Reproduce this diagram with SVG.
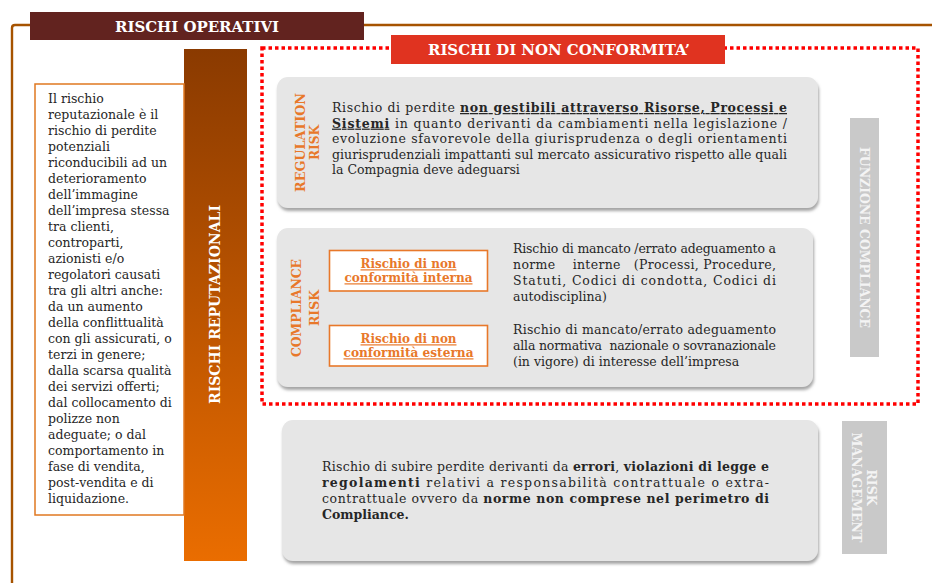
<svg xmlns="http://www.w3.org/2000/svg" width="932" height="583" viewBox="0 0 932 583">
<defs>
<linearGradient id="gRep" x1="0" y1="0" x2="0" y2="1">
<stop offset="0" stop-color="#8A3A00"/><stop offset="1" stop-color="#EA6D00"/>
</linearGradient>
<filter id="sh" x="-5%" y="-5%" width="110%" height="120%">
<feDropShadow dx="1" dy="3" stdDeviation="1.5" flood-color="#7F7F7F" flood-opacity="0.7"/>
</filter>
</defs>
<style>
.body{font-family:"DejaVu Serif","Liberation Serif",serif;font-size:12.5px;fill:#262626}
.b{font-weight:bold}
.u{text-decoration:underline}
.hdr{font-family:"DejaVu Serif","Liberation Serif",serif;font-weight:bold;fill:#FFFFFF}
.vlab{font-family:"DejaVu Serif","Liberation Serif",serif;font-weight:bold;font-size:12.5px;fill:#E8782A}
.card{fill:#E6E6E6;filter:url(#sh)}
.ob{fill:#FFFFFF;stroke:#E8782A;stroke-width:1.6}
.obt{font-family:"DejaVu Serif","Liberation Serif",serif;font-weight:bold;font-size:12px;fill:#E8782A;text-decoration:underline}
.gbar{fill:#C9C9C9}
.gtxt{font-family:"DejaVu Serif","Liberation Serif",serif;font-weight:bold;font-size:13px;fill:#F4F4F4}
</style>

<g id="frame">
<path d="M12 583 V28 Q12 25 15 25 H932" fill="none" stroke="#A65300" stroke-width="2.4"/>
</g>

<g id="rischi-operativi">
<rect x="30" y="12" width="334" height="28" fill="#62231F"/>
<text class="hdr" x="197" y="31.5" font-size="15.5" text-anchor="middle" textLength="164" lengthAdjust="spacingAndGlyphs">RISCHI OPERATIVI</text>
</g>

<g id="non-conformita-frame">
<rect x="262" y="48" width="656" height="356" fill="none" stroke="#FF0000" stroke-width="3.5" stroke-dasharray="3.5 3"/>
</g>

<g id="rischi-non-conformita">
<rect x="391" y="35" width="334" height="29" fill="#E03320"/>
<text class="hdr" x="559" y="55" font-size="15" text-anchor="middle" textLength="262" lengthAdjust="spacingAndGlyphs">RISCHI DI NON CONFORMITA’</text>
</g>

<g id="rischi-reputazionali">
<rect x="184" y="49" width="63" height="512" fill="url(#gRep)"/>
<text class="hdr" font-size="14.5" transform="translate(220,304.5) rotate(-90)" text-anchor="middle" textLength="199" lengthAdjust="spacingAndGlyphs">RISCHI REPUTAZIONALI</text>
</g>

<g id="reputazionale-desc">
<rect x="35" y="84" width="149" height="431" fill="#FFFFFF" stroke="#E07820" stroke-width="1.5"/>
<text class="body">
<tspan x="48" y="103">Il rischio</tspan>
<tspan x="48" y="119">reputazionale è il</tspan>
<tspan x="48" y="135">rischio di perdite</tspan>
<tspan x="48" y="151">potenziali</tspan>
<tspan x="48" y="167">riconducibili ad un</tspan>
<tspan x="48" y="183">deterioramento</tspan>
<tspan x="48" y="199">dell’immagine</tspan>
<tspan x="48" y="215">dell’impresa stessa</tspan>
<tspan x="48" y="231">tra clienti,</tspan>
<tspan x="48" y="247">controparti,</tspan>
<tspan x="48" y="263">azionisti e/o</tspan>
<tspan x="48" y="279">regolatori causati</tspan>
<tspan x="48" y="295">tra gli altri anche:</tspan>
<tspan x="48" y="311">da un aumento</tspan>
<tspan x="48" y="327">della conflittualità</tspan>
<tspan x="48" y="343">con gli assicurati, o</tspan>
<tspan x="48" y="359">terzi in genere;</tspan>
<tspan x="48" y="375">dalla scarsa qualità</tspan>
<tspan x="48" y="391">dei servizi offerti;</tspan>
<tspan x="48" y="407">dal collocamento di</tspan>
<tspan x="48" y="423">polizze non</tspan>
<tspan x="48" y="439">adeguate; o dal</tspan>
<tspan x="48" y="455">comportamento in</tspan>
<tspan x="48" y="471">fase di vendita,</tspan>
<tspan x="48" y="487">post-vendita e di</tspan>
<tspan x="48" y="503">liquidazione.</tspan>
</text>
</g>

<g id="regulation-risk">
<rect class="card" x="277" y="77" width="541" height="131" rx="11"/>
<text class="vlab" transform="translate(304.5,142.5) rotate(-90)" text-anchor="middle" textLength="99" lengthAdjust="spacingAndGlyphs">REGULATION</text>
<text class="vlab" transform="translate(319,142.5) rotate(-90)" text-anchor="middle" textLength="35" lengthAdjust="spacingAndGlyphs">RISK</text>
<text class="body" x="332" y="112" textLength="455" lengthAdjust="spacing">Rischio di perdite <tspan class="b u">non gestibili attraverso Risorse, Processi e</tspan></text>
<text class="body" x="332" y="127.6" textLength="455" lengthAdjust="spacing"><tspan class="b u">Sistemi</tspan> in quanto derivanti da cambiamenti nella legislazione /</text>
<text class="body" x="332" y="143.2" textLength="455" lengthAdjust="spacing">evoluzione sfavorevole della giurisprudenza o degli orientamenti</text>
<text class="body" x="332" y="158.8" textLength="455" lengthAdjust="spacing">giurisprudenziali  impattanti sul mercato assicurativo rispetto alle quali</text>
<text class="body" x="332" y="174.4">la Compagnia deve adeguarsi</text>
</g>

<g id="compliance-risk">
<rect class="card" x="277" y="228" width="536" height="159" rx="11"/>
<text class="vlab" transform="translate(301,308) rotate(-90)" text-anchor="middle" textLength="98" lengthAdjust="spacingAndGlyphs">COMPLIANCE</text>
<text class="vlab" transform="translate(319,308) rotate(-90)" text-anchor="middle" textLength="36" lengthAdjust="spacingAndGlyphs">RISK</text>
</g>

<g id="non-conformita-interna">
<rect class="ob" x="329.5" y="250.5" width="158" height="40.5"/>
<text class="obt" x="408.5" y="268.3" text-anchor="middle" textLength="96" lengthAdjust="spacingAndGlyphs">Rischio di non</text>
<text class="obt" x="408.5" y="282.3" text-anchor="middle" textLength="128" lengthAdjust="spacingAndGlyphs">conformità interna</text>
<text class="body" x="513" y="253.3" textLength="263" lengthAdjust="spacing">Rischio di mancato /errato adeguamento a</text>
<text class="body" x="513" y="269.3" textLength="263" lengthAdjust="spacing" xml:space="preserve">norme    interne   (Processi, Procedure,</text>
<text class="body" x="513" y="285.1" textLength="263" lengthAdjust="spacing">Statuti, Codici di condotta, Codici di</text>
<text class="body" x="513" y="301">autodisciplina)</text>
</g>

<g id="non-conformita-esterna">
<rect class="ob" x="329.5" y="325.5" width="158" height="40.5"/>
<text class="obt" x="408.5" y="343.3" text-anchor="middle" textLength="96" lengthAdjust="spacingAndGlyphs">Rischio di non</text>
<text class="obt" x="408.5" y="357.3" text-anchor="middle" textLength="130" lengthAdjust="spacingAndGlyphs">conformità esterna</text>
<text class="body" x="513" y="334" textLength="263" lengthAdjust="spacing">Rischio di mancato/errato adeguamento</text>
<text class="body" x="513" y="350" textLength="263" lengthAdjust="spacing" xml:space="preserve">alla normativa  nazionale o sovranazionale</text>
<text class="body" x="513" y="365.8">(in vigore) di interesse dell’impresa</text>
</g>

<g id="funzione-compliance">
<rect class="gbar" x="850" y="118" width="29" height="239"/>
<text class="gtxt" transform="translate(860,237.5) rotate(90)" text-anchor="middle" textLength="181" lengthAdjust="spacingAndGlyphs">FUNZIONE COMPLIANCE</text>
</g>

<g id="rischio-operativo-residuo">
<rect class="card" x="282" y="420" width="536" height="141" rx="11"/>
<text class="body" x="322" y="470.5" textLength="447" lengthAdjust="spacing">Rischio di subire perdite derivanti da <tspan class="b">errori</tspan>, <tspan class="b">violazioni di legge e</tspan></text>
<text class="body" x="322" y="486.8" textLength="447" lengthAdjust="spacing"><tspan class="b">regolamenti</tspan> relativi a responsabilità contrattuale o extra-</text>
<text class="body" x="322" y="503.1" textLength="447" lengthAdjust="spacing">contrattuale ovvero da <tspan class="b">norme non comprese nel perimetro di</tspan></text>
<text class="body b" x="322" y="519.4">Compliance.</text>
</g>

<g id="risk-management">
<rect class="gbar" x="842" y="421" width="45" height="133"/>
<text class="gtxt" transform="translate(867,487.5) rotate(90)" text-anchor="middle" textLength="36" lengthAdjust="spacingAndGlyphs">RISK</text>
<text class="gtxt" transform="translate(852,487.5) rotate(90)" text-anchor="middle" textLength="110" lengthAdjust="spacingAndGlyphs">MANAGEMENT</text>
</g>

<g id="connectors"></g>
</svg>
